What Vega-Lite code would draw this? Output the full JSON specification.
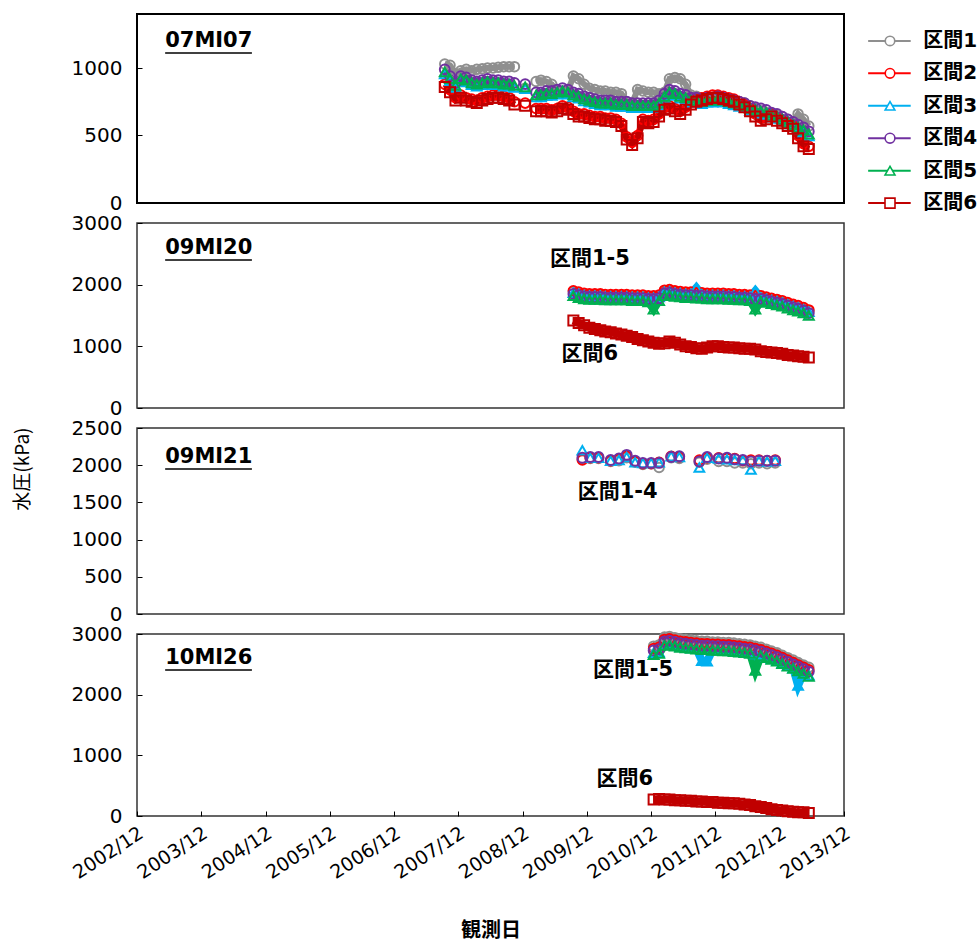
{
  "$schema": "https://vega.github.io/schema/vega-lite/v6.json",
  "padding": {"left": 14, "top": 13, "right": 0, "bottom": 4},
  "background": "white",
  "config": {
    "font": "DejaVu Sans",
    "view": {"stroke": "#333", "strokeWidth": 1.5},
    "axis": {"labelFont": "DejaVu Sans", "labelFontSize": 20, "labelColor": "#000", "tickColor": "#000", "domain": false, "grid": false, "labelFlush": false, "labelOverlap": false}
  },
  "title": {"text": "水圧(kPa)", "orient": "left", "anchor": "middle", "font": "Noto Sans CJK JP", "fontSize": 19, "fontWeight": "normal", "color": "#000", "offset": 36, "dx": 8},
  "datasets": {
    "p1": [
      {"s":"区間1","g":1,"d":"2007-09-15","v":1030},{"s":"区間1","g":1,"d":"2007-10-15","v":1020},{"s":"区間1","g":1,"d":"2007-11-15","v":960},{"s":"区間1","g":1,"d":"2007-12-15","v":980},{"s":"区間1","g":1,"d":"2008-01-15","v":990},{"s":"区間1","g":1,"d":"2008-02-15","v":980},{"s":"区間1","g":1,"d":"2008-03-15","v":990},{"s":"区間1","g":1,"d":"2008-04-15","v":995},{"s":"区間1","g":1,"d":"2008-05-15","v":1000},{"s":"区間1","g":1,"d":"2008-06-15","v":1000},{"s":"区間1","g":1,"d":"2008-07-15","v":1005},{"s":"区間1","g":1,"d":"2008-08-15","v":1010},{"s":"区間1","g":1,"d":"2008-09-15","v":1010},{"s":"区間1","g":1,"d":"2008-10-15","v":1010},
      {"s":"区間1","g":2,"d":"2008-12-15","v":850},
      {"s":"区間1","g":3,"d":"2009-02-15","v":900},{"s":"区間1","g":3,"d":"2009-03-15","v":910},{"s":"区間1","g":3,"d":"2009-04-15","v":900},{"s":"区間1","g":3,"d":"2009-05-15","v":880},{"s":"区間1","g":3,"d":"2009-06-15","v":820},{"s":"区間1","g":3,"d":"2009-07-15","v":820},{"s":"区間1","g":3,"d":"2009-08-15","v":830},{"s":"区間1","g":3,"d":"2009-09-15","v":940},{"s":"区間1","g":3,"d":"2009-10-15","v":920},{"s":"区間1","g":3,"d":"2009-11-15","v":880},{"s":"区間1","g":3,"d":"2009-12-15","v":850},
      {"s":"区間1","g":3,"d":"2010-01-15","v":840},{"s":"区間1","g":3,"d":"2010-02-15","v":830},{"s":"区間1","g":3,"d":"2010-03-15","v":830},{"s":"区間1","g":3,"d":"2010-04-15","v":820},{"s":"区間1","g":3,"d":"2010-05-15","v":820},{"s":"区間1","g":3,"d":"2010-06-15","v":810},{"s":"区間1","g":3,"d":"2010-07-15","v":750},{"s":"区間1","g":3,"d":"2010-08-15","v":740},{"s":"区間1","g":3,"d":"2010-09-15","v":840},{"s":"区間1","g":3,"d":"2010-10-15","v":830},{"s":"区間1","g":3,"d":"2010-11-15","v":820},{"s":"区間1","g":3,"d":"2010-12-15","v":820},
      {"s":"区間1","g":3,"d":"2011-01-15","v":810},{"s":"区間1","g":3,"d":"2011-02-15","v":820},{"s":"区間1","g":3,"d":"2011-03-15","v":920},{"s":"区間1","g":3,"d":"2011-04-15","v":930},{"s":"区間1","g":3,"d":"2011-05-15","v":920},{"s":"区間1","g":3,"d":"2011-06-15","v":880},{"s":"区間1","g":3,"d":"2011-07-15","v":800},{"s":"区間1","g":3,"d":"2011-08-15","v":790},{"s":"区間1","g":3,"d":"2011-09-15","v":780},{"s":"区間1","g":3,"d":"2011-10-15","v":770},{"s":"区間1","g":3,"d":"2011-11-15","v":770},{"s":"区間1","g":3,"d":"2011-12-15","v":780},
      {"s":"区間1","g":3,"d":"2012-01-15","v":780},{"s":"区間1","g":3,"d":"2012-02-15","v":770},{"s":"区間1","g":3,"d":"2012-03-15","v":760},{"s":"区間1","g":3,"d":"2012-04-15","v":750},{"s":"区間1","g":3,"d":"2012-05-15","v":740},{"s":"区間1","g":3,"d":"2012-06-15","v":720},{"s":"区間1","g":3,"d":"2012-07-15","v":700},{"s":"区間1","g":3,"d":"2012-08-15","v":680},{"s":"区間1","g":3,"d":"2012-09-15","v":670},{"s":"区間1","g":3,"d":"2012-10-15","v":660},{"s":"区間1","g":3,"d":"2012-11-15","v":650},{"s":"区間1","g":3,"d":"2012-12-15","v":640},
      {"s":"区間1","g":3,"d":"2013-01-15","v":620},{"s":"区間1","g":3,"d":"2013-02-15","v":600},{"s":"区間1","g":3,"d":"2013-03-15","v":660},{"s":"区間1","g":3,"d":"2013-04-15","v":620},{"s":"区間1","g":3,"d":"2013-05-15","v":570},

      {"s":"区間2","g":1,"d":"2007-09-15","v":880},{"s":"区間2","g":1,"d":"2007-10-15","v":840},{"s":"区間2","g":1,"d":"2007-11-15","v":780},{"s":"区間2","g":1,"d":"2007-12-15","v":800},{"s":"区間2","g":1,"d":"2008-01-15","v":780},{"s":"区間2","g":1,"d":"2008-02-15","v":770},{"s":"区間2","g":1,"d":"2008-03-15","v":760},{"s":"区間2","g":1,"d":"2008-04-15","v":780},{"s":"区間2","g":1,"d":"2008-05-15","v":790},{"s":"区間2","g":1,"d":"2008-06-15","v":800},{"s":"区間2","g":1,"d":"2008-07-15","v":800},{"s":"区間2","g":1,"d":"2008-08-15","v":790},{"s":"区間2","g":1,"d":"2008-09-15","v":780},{"s":"区間2","g":1,"d":"2008-10-15","v":750},
      {"s":"区間2","g":2,"d":"2008-12-15","v":740},
      {"s":"区間2","g":3,"d":"2009-02-15","v":700},{"s":"区間2","g":3,"d":"2009-03-15","v":700},{"s":"区間2","g":3,"d":"2009-04-15","v":700},{"s":"区間2","g":3,"d":"2009-05-15","v":690},{"s":"区間2","g":3,"d":"2009-06-15","v":700},{"s":"区間2","g":3,"d":"2009-07-15","v":720},{"s":"区間2","g":3,"d":"2009-08-15","v":710},{"s":"区間2","g":3,"d":"2009-09-15","v":680},{"s":"区間2","g":3,"d":"2009-10-15","v":660},{"s":"区間2","g":3,"d":"2009-11-15","v":660},{"s":"区間2","g":3,"d":"2009-12-15","v":650},
      {"s":"区間2","g":3,"d":"2010-01-15","v":640},{"s":"区間2","g":3,"d":"2010-02-15","v":640},{"s":"区間2","g":3,"d":"2010-03-15","v":630},{"s":"区間2","g":3,"d":"2010-04-15","v":630},{"s":"区間2","g":3,"d":"2010-05-15","v":620},{"s":"区間2","g":3,"d":"2010-06-15","v":590},{"s":"区間2","g":3,"d":"2010-07-15","v":490},{"s":"区間2","g":3,"d":"2010-08-15","v":450},{"s":"区間2","g":3,"d":"2010-09-15","v":500},{"s":"区間2","g":3,"d":"2010-10-15","v":620},{"s":"区間2","g":3,"d":"2010-11-15","v":610},{"s":"区間2","g":3,"d":"2010-12-15","v":620},
      {"s":"区間2","g":3,"d":"2011-01-15","v":660},{"s":"区間2","g":3,"d":"2011-02-15","v":710},{"s":"区間2","g":3,"d":"2011-03-15","v":720},{"s":"区間2","g":3,"d":"2011-04-15","v":700},{"s":"区間2","g":3,"d":"2011-05-15","v":680},{"s":"区間2","g":3,"d":"2011-06-15","v":710},{"s":"区間2","g":3,"d":"2011-07-15","v":750},{"s":"区間2","g":3,"d":"2011-08-15","v":770},{"s":"区間2","g":3,"d":"2011-09-15","v":780},{"s":"区間2","g":3,"d":"2011-10-15","v":790},{"s":"区間2","g":3,"d":"2011-11-15","v":800},{"s":"区間2","g":3,"d":"2011-12-15","v":800},
      {"s":"区間2","g":3,"d":"2012-01-15","v":790},{"s":"区間2","g":3,"d":"2012-02-15","v":780},{"s":"区間2","g":3,"d":"2012-03-15","v":770},{"s":"区間2","g":3,"d":"2012-04-15","v":750},{"s":"区間2","g":3,"d":"2012-05-15","v":730},{"s":"区間2","g":3,"d":"2012-06-15","v":700},{"s":"区間2","g":3,"d":"2012-07-15","v":660},{"s":"区間2","g":3,"d":"2012-08-15","v":630},{"s":"区間2","g":3,"d":"2012-09-15","v":640},{"s":"区間2","g":3,"d":"2012-10-15","v":660},{"s":"区間2","g":3,"d":"2012-11-15","v":630},{"s":"区間2","g":3,"d":"2012-12-15","v":610},
      {"s":"区間2","g":3,"d":"2013-01-15","v":590},{"s":"区間2","g":3,"d":"2013-02-15","v":570},{"s":"区間2","g":3,"d":"2013-03-15","v":500},{"s":"区間2","g":3,"d":"2013-04-15","v":440},{"s":"区間2","g":3,"d":"2013-05-15","v":420},

      {"s":"区間3","g":1,"d":"2007-09-15","v":955},{"s":"区間3","g":1,"d":"2007-10-15","v":905},{"s":"区間3","g":1,"d":"2007-11-15","v":855},{"s":"区間3","g":1,"d":"2007-12-15","v":905},{"s":"区間3","g":1,"d":"2008-01-15","v":895},{"s":"区間3","g":1,"d":"2008-02-15","v":875},{"s":"区間3","g":1,"d":"2008-03-15","v":865},{"s":"区間3","g":1,"d":"2008-04-15","v":875},{"s":"区間3","g":1,"d":"2008-05-15","v":885},{"s":"区間3","g":1,"d":"2008-06-15","v":875},{"s":"区間3","g":1,"d":"2008-07-15","v":875},{"s":"区間3","g":1,"d":"2008-08-15","v":865},{"s":"区間3","g":1,"d":"2008-09-15","v":865},{"s":"区間3","g":1,"d":"2008-10-15","v":855},
      {"s":"区間3","g":2,"d":"2008-12-15","v":845},
      {"s":"区間3","g":3,"d":"2009-02-15","v":785},{"s":"区間3","g":3,"d":"2009-03-15","v":785},{"s":"区間3","g":3,"d":"2009-04-15","v":795},{"s":"区間3","g":3,"d":"2009-05-15","v":795},{"s":"区間3","g":3,"d":"2009-06-15","v":805},{"s":"区間3","g":3,"d":"2009-07-15","v":815},{"s":"区間3","g":3,"d":"2009-08-15","v":805},{"s":"区間3","g":3,"d":"2009-09-15","v":785},{"s":"区間3","g":3,"d":"2009-10-15","v":775},{"s":"区間3","g":3,"d":"2009-11-15","v":755},{"s":"区間3","g":3,"d":"2009-12-15","v":745},
      {"s":"区間3","g":3,"d":"2010-01-15","v":735},{"s":"区間3","g":3,"d":"2010-02-15","v":725},{"s":"区間3","g":3,"d":"2010-03-15","v":725},{"s":"区間3","g":3,"d":"2010-04-15","v":725},{"s":"区間3","g":3,"d":"2010-05-15","v":715},{"s":"区間3","g":3,"d":"2010-06-15","v":715},{"s":"区間3","g":3,"d":"2010-07-15","v":715},{"s":"区間3","g":3,"d":"2010-08-15","v":705},{"s":"区間3","g":3,"d":"2010-09-15","v":705},{"s":"区間3","g":3,"d":"2010-10-15","v":705},{"s":"区間3","g":3,"d":"2010-11-15","v":705},{"s":"区間3","g":3,"d":"2010-12-15","v":705},
      {"s":"区間3","g":3,"d":"2011-01-15","v":725},{"s":"区間3","g":3,"d":"2011-02-15","v":775},{"s":"区間3","g":3,"d":"2011-03-15","v":805},{"s":"区間3","g":3,"d":"2011-04-15","v":795},{"s":"区間3","g":3,"d":"2011-05-15","v":775},{"s":"区間3","g":3,"d":"2011-06-15","v":765},{"s":"区間3","g":3,"d":"2011-07-15","v":745},{"s":"区間3","g":3,"d":"2011-08-15","v":745},{"s":"区間3","g":3,"d":"2011-09-15","v":735},{"s":"区間3","g":3,"d":"2011-10-15","v":745},{"s":"区間3","g":3,"d":"2011-11-15","v":745},{"s":"区間3","g":3,"d":"2011-12-15","v":755},
      {"s":"区間3","g":3,"d":"2012-01-15","v":745},{"s":"区間3","g":3,"d":"2012-02-15","v":735},{"s":"区間3","g":3,"d":"2012-03-15","v":725},{"s":"区間3","g":3,"d":"2012-04-15","v":715},{"s":"区間3","g":3,"d":"2012-05-15","v":705},{"s":"区間3","g":3,"d":"2012-06-15","v":685},{"s":"区間3","g":3,"d":"2012-07-15","v":675},{"s":"区間3","g":3,"d":"2012-08-15","v":665},{"s":"区間3","g":3,"d":"2012-09-15","v":655},{"s":"区間3","g":3,"d":"2012-10-15","v":635},{"s":"区間3","g":3,"d":"2012-11-15","v":625},{"s":"区間3","g":3,"d":"2012-12-15","v":605},
      {"s":"区間3","g":3,"d":"2013-01-15","v":585},{"s":"区間3","g":3,"d":"2013-02-15","v":565},{"s":"区間3","g":3,"d":"2013-03-15","v":545},{"s":"区間3","g":3,"d":"2013-04-15","v":525},{"s":"区間3","g":3,"d":"2013-05-15","v":495},

      {"s":"区間4","g":1,"d":"2007-09-15","v":990},{"s":"区間4","g":1,"d":"2007-10-15","v":940},{"s":"区間4","g":1,"d":"2007-11-15","v":890},{"s":"区間4","g":1,"d":"2007-12-15","v":940},{"s":"区間4","g":1,"d":"2008-01-15","v":930},{"s":"区間4","g":1,"d":"2008-02-15","v":910},{"s":"区間4","g":1,"d":"2008-03-15","v":900},{"s":"区間4","g":1,"d":"2008-04-15","v":910},{"s":"区間4","g":1,"d":"2008-05-15","v":920},{"s":"区間4","g":1,"d":"2008-06-15","v":910},{"s":"区間4","g":1,"d":"2008-07-15","v":910},{"s":"区間4","g":1,"d":"2008-08-15","v":900},{"s":"区間4","g":1,"d":"2008-09-15","v":900},{"s":"区間4","g":1,"d":"2008-10-15","v":890},
      {"s":"区間4","g":2,"d":"2008-12-15","v":880},
      {"s":"区間4","g":3,"d":"2009-02-15","v":820},{"s":"区間4","g":3,"d":"2009-03-15","v":820},{"s":"区間4","g":3,"d":"2009-04-15","v":830},{"s":"区間4","g":3,"d":"2009-05-15","v":830},{"s":"区間4","g":3,"d":"2009-06-15","v":840},{"s":"区間4","g":3,"d":"2009-07-15","v":850},{"s":"区間4","g":3,"d":"2009-08-15","v":840},{"s":"区間4","g":3,"d":"2009-09-15","v":820},{"s":"区間4","g":3,"d":"2009-10-15","v":810},{"s":"区間4","g":3,"d":"2009-11-15","v":790},{"s":"区間4","g":3,"d":"2009-12-15","v":780},
      {"s":"区間4","g":3,"d":"2010-01-15","v":770},{"s":"区間4","g":3,"d":"2010-02-15","v":760},{"s":"区間4","g":3,"d":"2010-03-15","v":760},{"s":"区間4","g":3,"d":"2010-04-15","v":760},{"s":"区間4","g":3,"d":"2010-05-15","v":750},{"s":"区間4","g":3,"d":"2010-06-15","v":750},{"s":"区間4","g":3,"d":"2010-07-15","v":750},{"s":"区間4","g":3,"d":"2010-08-15","v":740},{"s":"区間4","g":3,"d":"2010-09-15","v":740},{"s":"区間4","g":3,"d":"2010-10-15","v":740},{"s":"区間4","g":3,"d":"2010-11-15","v":740},{"s":"区間4","g":3,"d":"2010-12-15","v":740},
      {"s":"区間4","g":3,"d":"2011-01-15","v":760},{"s":"区間4","g":3,"d":"2011-02-15","v":810},{"s":"区間4","g":3,"d":"2011-03-15","v":840},{"s":"区間4","g":3,"d":"2011-04-15","v":830},{"s":"区間4","g":3,"d":"2011-05-15","v":810},{"s":"区間4","g":3,"d":"2011-06-15","v":800},{"s":"区間4","g":3,"d":"2011-07-15","v":780},{"s":"区間4","g":3,"d":"2011-08-15","v":780},{"s":"区間4","g":3,"d":"2011-09-15","v":770},{"s":"区間4","g":3,"d":"2011-10-15","v":780},{"s":"区間4","g":3,"d":"2011-11-15","v":780},{"s":"区間4","g":3,"d":"2011-12-15","v":790},
      {"s":"区間4","g":3,"d":"2012-01-15","v":780},{"s":"区間4","g":3,"d":"2012-02-15","v":770},{"s":"区間4","g":3,"d":"2012-03-15","v":760},{"s":"区間4","g":3,"d":"2012-04-15","v":750},{"s":"区間4","g":3,"d":"2012-05-15","v":740},{"s":"区間4","g":3,"d":"2012-06-15","v":720},{"s":"区間4","g":3,"d":"2012-07-15","v":710},{"s":"区間4","g":3,"d":"2012-08-15","v":700},{"s":"区間4","g":3,"d":"2012-09-15","v":690},{"s":"区間4","g":3,"d":"2012-10-15","v":670},{"s":"区間4","g":3,"d":"2012-11-15","v":660},{"s":"区間4","g":3,"d":"2012-12-15","v":640},
      {"s":"区間4","g":3,"d":"2013-01-15","v":620},{"s":"区間4","g":3,"d":"2013-02-15","v":600},{"s":"区間4","g":3,"d":"2013-03-15","v":580},{"s":"区間4","g":3,"d":"2013-04-15","v":560},{"s":"区間4","g":3,"d":"2013-05-15","v":530},

      {"s":"区間5","g":1,"d":"2007-09-15","v":970},{"s":"区間5","g":1,"d":"2007-10-15","v":920},{"s":"区間5","g":1,"d":"2007-11-15","v":870},{"s":"区間5","g":1,"d":"2007-12-15","v":920},{"s":"区間5","g":1,"d":"2008-01-15","v":910},{"s":"区間5","g":1,"d":"2008-02-15","v":890},{"s":"区間5","g":1,"d":"2008-03-15","v":880},{"s":"区間5","g":1,"d":"2008-04-15","v":890},{"s":"区間5","g":1,"d":"2008-05-15","v":900},{"s":"区間5","g":1,"d":"2008-06-15","v":890},{"s":"区間5","g":1,"d":"2008-07-15","v":890},{"s":"区間5","g":1,"d":"2008-08-15","v":880},{"s":"区間5","g":1,"d":"2008-09-15","v":880},{"s":"区間5","g":1,"d":"2008-10-15","v":870},
      {"s":"区間5","g":2,"d":"2008-12-15","v":860},
      {"s":"区間5","g":3,"d":"2009-02-15","v":800},{"s":"区間5","g":3,"d":"2009-03-15","v":800},{"s":"区間5","g":3,"d":"2009-04-15","v":810},{"s":"区間5","g":3,"d":"2009-05-15","v":810},{"s":"区間5","g":3,"d":"2009-06-15","v":820},{"s":"区間5","g":3,"d":"2009-07-15","v":830},{"s":"区間5","g":3,"d":"2009-08-15","v":820},{"s":"区間5","g":3,"d":"2009-09-15","v":800},{"s":"区間5","g":3,"d":"2009-10-15","v":790},{"s":"区間5","g":3,"d":"2009-11-15","v":770},{"s":"区間5","g":3,"d":"2009-12-15","v":760},
      {"s":"区間5","g":3,"d":"2010-01-15","v":750},{"s":"区間5","g":3,"d":"2010-02-15","v":740},{"s":"区間5","g":3,"d":"2010-03-15","v":740},{"s":"区間5","g":3,"d":"2010-04-15","v":740},{"s":"区間5","g":3,"d":"2010-05-15","v":730},{"s":"区間5","g":3,"d":"2010-06-15","v":730},{"s":"区間5","g":3,"d":"2010-07-15","v":730},{"s":"区間5","g":3,"d":"2010-08-15","v":720},{"s":"区間5","g":3,"d":"2010-09-15","v":720},{"s":"区間5","g":3,"d":"2010-10-15","v":720},{"s":"区間5","g":3,"d":"2010-11-15","v":720},{"s":"区間5","g":3,"d":"2010-12-15","v":720},
      {"s":"区間5","g":3,"d":"2011-01-15","v":740},{"s":"区間5","g":3,"d":"2011-02-15","v":790},{"s":"区間5","g":3,"d":"2011-03-15","v":820},{"s":"区間5","g":3,"d":"2011-04-15","v":810},{"s":"区間5","g":3,"d":"2011-05-15","v":790},{"s":"区間5","g":3,"d":"2011-06-15","v":780},{"s":"区間5","g":3,"d":"2011-07-15","v":760},{"s":"区間5","g":3,"d":"2011-08-15","v":760},{"s":"区間5","g":3,"d":"2011-09-15","v":750},{"s":"区間5","g":3,"d":"2011-10-15","v":760},{"s":"区間5","g":3,"d":"2011-11-15","v":760},{"s":"区間5","g":3,"d":"2011-12-15","v":770},
      {"s":"区間5","g":3,"d":"2012-01-15","v":760},{"s":"区間5","g":3,"d":"2012-02-15","v":750},{"s":"区間5","g":3,"d":"2012-03-15","v":740},{"s":"区間5","g":3,"d":"2012-04-15","v":730},{"s":"区間5","g":3,"d":"2012-05-15","v":720},{"s":"区間5","g":3,"d":"2012-06-15","v":700},{"s":"区間5","g":3,"d":"2012-07-15","v":690},{"s":"区間5","g":3,"d":"2012-08-15","v":680},{"s":"区間5","g":3,"d":"2012-09-15","v":670},{"s":"区間5","g":3,"d":"2012-10-15","v":650},{"s":"区間5","g":3,"d":"2012-11-15","v":640},{"s":"区間5","g":3,"d":"2012-12-15","v":620},
      {"s":"区間5","g":3,"d":"2013-01-15","v":600},{"s":"区間5","g":3,"d":"2013-02-15","v":580},{"s":"区間5","g":3,"d":"2013-03-15","v":560},{"s":"区間5","g":3,"d":"2013-04-15","v":540},{"s":"区間5","g":3,"d":"2013-05-15","v":510},

      {"s":"区間6","g":1,"d":"2007-09-15","v":860},{"s":"区間6","g":1,"d":"2007-10-15","v":820},{"s":"区間6","g":1,"d":"2007-11-15","v":760},{"s":"区間6","g":1,"d":"2007-12-15","v":780},{"s":"区間6","g":1,"d":"2008-01-15","v":760},{"s":"区間6","g":1,"d":"2008-02-15","v":750},{"s":"区間6","g":1,"d":"2008-03-15","v":740},{"s":"区間6","g":1,"d":"2008-04-15","v":760},{"s":"区間6","g":1,"d":"2008-05-15","v":770},{"s":"区間6","g":1,"d":"2008-06-15","v":780},{"s":"区間6","g":1,"d":"2008-07-15","v":780},{"s":"区間6","g":1,"d":"2008-08-15","v":770},{"s":"区間6","g":1,"d":"2008-09-15","v":760},{"s":"区間6","g":1,"d":"2008-10-15","v":730},
      {"s":"区間6","g":2,"d":"2008-12-15","v":720},
      {"s":"区間6","g":3,"d":"2009-02-15","v":680},{"s":"区間6","g":3,"d":"2009-03-15","v":680},{"s":"区間6","g":3,"d":"2009-04-15","v":680},{"s":"区間6","g":3,"d":"2009-05-15","v":670},{"s":"区間6","g":3,"d":"2009-06-15","v":680},{"s":"区間6","g":3,"d":"2009-07-15","v":700},{"s":"区間6","g":3,"d":"2009-08-15","v":690},{"s":"区間6","g":3,"d":"2009-09-15","v":660},{"s":"区間6","g":3,"d":"2009-10-15","v":640},{"s":"区間6","g":3,"d":"2009-11-15","v":640},{"s":"区間6","g":3,"d":"2009-12-15","v":630},
      {"s":"区間6","g":3,"d":"2010-01-15","v":620},{"s":"区間6","g":3,"d":"2010-02-15","v":620},{"s":"区間6","g":3,"d":"2010-03-15","v":610},{"s":"区間6","g":3,"d":"2010-04-15","v":610},{"s":"区間6","g":3,"d":"2010-05-15","v":600},{"s":"区間6","g":3,"d":"2010-06-15","v":570},{"s":"区間6","g":3,"d":"2010-07-15","v":470},{"s":"区間6","g":3,"d":"2010-08-15","v":430},{"s":"区間6","g":3,"d":"2010-09-15","v":480},{"s":"区間6","g":3,"d":"2010-10-15","v":600},{"s":"区間6","g":3,"d":"2010-11-15","v":590},{"s":"区間6","g":3,"d":"2010-12-15","v":600},
      {"s":"区間6","g":3,"d":"2011-01-15","v":640},{"s":"区間6","g":3,"d":"2011-02-15","v":690},{"s":"区間6","g":3,"d":"2011-03-15","v":700},{"s":"区間6","g":3,"d":"2011-04-15","v":680},{"s":"区間6","g":3,"d":"2011-05-15","v":660},{"s":"区間6","g":3,"d":"2011-06-15","v":690},{"s":"区間6","g":3,"d":"2011-07-15","v":730},{"s":"区間6","g":3,"d":"2011-08-15","v":750},{"s":"区間6","g":3,"d":"2011-09-15","v":760},{"s":"区間6","g":3,"d":"2011-10-15","v":770},{"s":"区間6","g":3,"d":"2011-11-15","v":780},{"s":"区間6","g":3,"d":"2011-12-15","v":780},
      {"s":"区間6","g":3,"d":"2012-01-15","v":770},{"s":"区間6","g":3,"d":"2012-02-15","v":760},{"s":"区間6","g":3,"d":"2012-03-15","v":750},{"s":"区間6","g":3,"d":"2012-04-15","v":730},{"s":"区間6","g":3,"d":"2012-05-15","v":710},{"s":"区間6","g":3,"d":"2012-06-15","v":680},{"s":"区間6","g":3,"d":"2012-07-15","v":640},{"s":"区間6","g":3,"d":"2012-08-15","v":610},{"s":"区間6","g":3,"d":"2012-09-15","v":620},{"s":"区間6","g":3,"d":"2012-10-15","v":640},{"s":"区間6","g":3,"d":"2012-11-15","v":610},{"s":"区間6","g":3,"d":"2012-12-15","v":590},
      {"s":"区間6","g":3,"d":"2013-01-15","v":570},{"s":"区間6","g":3,"d":"2013-02-15","v":550},{"s":"区間6","g":3,"d":"2013-03-15","v":480},{"s":"区間6","g":3,"d":"2013-04-15","v":420},{"s":"区間6","g":3,"d":"2013-05-15","v":400}
    ],
    "p2": [
      {"s":"区間1","d":"2009-09-15","v":1890},{"s":"区間1","d":"2009-10-15","v":1870},{"s":"区間1","d":"2009-11-15","v":1850},{"s":"区間1","d":"2009-12-15","v":1840},
      {"s":"区間1","d":"2010-01-15","v":1840},{"s":"区間1","d":"2010-02-15","v":1840},{"s":"区間1","d":"2010-03-15","v":1830},{"s":"区間1","d":"2010-04-15","v":1830},{"s":"区間1","d":"2010-05-15","v":1830},{"s":"区間1","d":"2010-06-15","v":1830},{"s":"区間1","d":"2010-07-15","v":1830},{"s":"区間1","d":"2010-08-15","v":1820},{"s":"区間1","d":"2010-09-15","v":1820},{"s":"区間1","d":"2010-10-15","v":1820},{"s":"区間1","d":"2010-11-15","v":1810},{"s":"区間1","d":"2010-12-15","v":1810},
      {"s":"区間1","d":"2011-01-15","v":1820},{"s":"区間1","d":"2011-02-15","v":1900},{"s":"区間1","d":"2011-03-15","v":1910},{"s":"区間1","d":"2011-04-15","v":1890},{"s":"区間1","d":"2011-05-15","v":1880},{"s":"区間1","d":"2011-06-15","v":1870},{"s":"区間1","d":"2011-07-15","v":1870},{"s":"区間1","d":"2011-08-15","v":1860},{"s":"区間1","d":"2011-09-15","v":1860},{"s":"区間1","d":"2011-10-15","v":1850},{"s":"区間1","d":"2011-11-15","v":1850},{"s":"区間1","d":"2011-12-15","v":1850},
      {"s":"区間1","d":"2012-01-15","v":1850},{"s":"区間1","d":"2012-02-15","v":1840},{"s":"区間1","d":"2012-03-15","v":1840},{"s":"区間1","d":"2012-04-15","v":1830},{"s":"区間1","d":"2012-05-15","v":1830},{"s":"区間1","d":"2012-06-15","v":1820},{"s":"区間1","d":"2012-07-15","v":1810},{"s":"区間1","d":"2012-08-15","v":1810},{"s":"区間1","d":"2012-09-15","v":1790},{"s":"区間1","d":"2012-10-15","v":1770},{"s":"区間1","d":"2012-11-15","v":1750},{"s":"区間1","d":"2012-12-15","v":1730},
      {"s":"区間1","d":"2013-01-15","v":1700},{"s":"区間1","d":"2013-02-15","v":1670},{"s":"区間1","d":"2013-03-15","v":1650},{"s":"区間1","d":"2013-04-15","v":1620},{"s":"区間1","d":"2013-05-15","v":1580},

      {"s":"区間2","d":"2009-09-15","v":1900},{"s":"区間2","d":"2009-10-15","v":1880},{"s":"区間2","d":"2009-11-15","v":1860},{"s":"区間2","d":"2009-12-15","v":1850},
      {"s":"区間2","d":"2010-01-15","v":1850},{"s":"区間2","d":"2010-02-15","v":1850},{"s":"区間2","d":"2010-03-15","v":1840},{"s":"区間2","d":"2010-04-15","v":1840},{"s":"区間2","d":"2010-05-15","v":1840},{"s":"区間2","d":"2010-06-15","v":1840},{"s":"区間2","d":"2010-07-15","v":1840},{"s":"区間2","d":"2010-08-15","v":1830},{"s":"区間2","d":"2010-09-15","v":1830},{"s":"区間2","d":"2010-10-15","v":1830},{"s":"区間2","d":"2010-11-15","v":1820},{"s":"区間2","d":"2010-12-15","v":1820},
      {"s":"区間2","d":"2011-01-15","v":1830},{"s":"区間2","d":"2011-02-15","v":1910},{"s":"区間2","d":"2011-03-15","v":1920},{"s":"区間2","d":"2011-04-15","v":1900},{"s":"区間2","d":"2011-05-15","v":1890},{"s":"区間2","d":"2011-06-15","v":1880},{"s":"区間2","d":"2011-07-15","v":1880},{"s":"区間2","d":"2011-08-15","v":1870},{"s":"区間2","d":"2011-09-15","v":1870},{"s":"区間2","d":"2011-10-15","v":1860},{"s":"区間2","d":"2011-11-15","v":1860},{"s":"区間2","d":"2011-12-15","v":1860},
      {"s":"区間2","d":"2012-01-15","v":1860},{"s":"区間2","d":"2012-02-15","v":1850},{"s":"区間2","d":"2012-03-15","v":1850},{"s":"区間2","d":"2012-04-15","v":1840},{"s":"区間2","d":"2012-05-15","v":1840},{"s":"区間2","d":"2012-06-15","v":1830},{"s":"区間2","d":"2012-07-15","v":1820},{"s":"区間2","d":"2012-08-15","v":1820},{"s":"区間2","d":"2012-09-15","v":1800},{"s":"区間2","d":"2012-10-15","v":1780},{"s":"区間2","d":"2012-11-15","v":1760},{"s":"区間2","d":"2012-12-15","v":1740},
      {"s":"区間2","d":"2013-01-15","v":1710},{"s":"区間2","d":"2013-02-15","v":1680},{"s":"区間2","d":"2013-03-15","v":1660},{"s":"区間2","d":"2013-04-15","v":1630},{"s":"区間2","d":"2013-05-15","v":1590},

      {"s":"区間3","d":"2009-09-15","v":1870},{"s":"区間3","d":"2009-10-15","v":1850},{"s":"区間3","d":"2009-11-15","v":1830},{"s":"区間3","d":"2009-12-15","v":1820},
      {"s":"区間3","d":"2010-01-15","v":1820},{"s":"区間3","d":"2010-02-15","v":1820},{"s":"区間3","d":"2010-03-15","v":1810},{"s":"区間3","d":"2010-04-15","v":1810},{"s":"区間3","d":"2010-05-15","v":1810},{"s":"区間3","d":"2010-06-15","v":1810},{"s":"区間3","d":"2010-07-15","v":1810},{"s":"区間3","d":"2010-08-15","v":1800},{"s":"区間3","d":"2010-09-15","v":1800},{"s":"区間3","d":"2010-10-15","v":1800},{"s":"区間3","d":"2010-11-15","v":1790},{"s":"区間3","d":"2010-12-15","v":1790},
      {"s":"区間3","d":"2011-01-15","v":1800},{"s":"区間3","d":"2011-02-15","v":1880},{"s":"区間3","d":"2011-03-15","v":1890},{"s":"区間3","d":"2011-04-15","v":1870},{"s":"区間3","d":"2011-05-15","v":1860},{"s":"区間3","d":"2011-06-15","v":1850},{"s":"区間3","d":"2011-07-15","v":1850},{"s":"区間3","d":"2011-08-15","v":1950},{"s":"区間3","d":"2011-09-15","v":1840},{"s":"区間3","d":"2011-10-15","v":1830},{"s":"区間3","d":"2011-11-15","v":1830},{"s":"区間3","d":"2011-12-15","v":1830},
      {"s":"区間3","d":"2012-01-15","v":1830},{"s":"区間3","d":"2012-02-15","v":1820},{"s":"区間3","d":"2012-03-15","v":1820},{"s":"区間3","d":"2012-04-15","v":1810},{"s":"区間3","d":"2012-05-15","v":1810},{"s":"区間3","d":"2012-06-15","v":1800},{"s":"区間3","d":"2012-07-15","v":1900},{"s":"区間3","d":"2012-08-15","v":1790},{"s":"区間3","d":"2012-09-15","v":1770},{"s":"区間3","d":"2012-10-15","v":1750},{"s":"区間3","d":"2012-11-15","v":1730},{"s":"区間3","d":"2012-12-15","v":1710},
      {"s":"区間3","d":"2013-01-15","v":1680},{"s":"区間3","d":"2013-02-15","v":1650},{"s":"区間3","d":"2013-03-15","v":1630},{"s":"区間3","d":"2013-04-15","v":1600},{"s":"区間3","d":"2013-05-15","v":1560},

      {"s":"区間4","d":"2009-09-15","v":1850},{"s":"区間4","d":"2009-10-15","v":1830},{"s":"区間4","d":"2009-11-15","v":1810},{"s":"区間4","d":"2009-12-15","v":1800},
      {"s":"区間4","d":"2010-01-15","v":1800},{"s":"区間4","d":"2010-02-15","v":1800},{"s":"区間4","d":"2010-03-15","v":1790},{"s":"区間4","d":"2010-04-15","v":1790},{"s":"区間4","d":"2010-05-15","v":1790},{"s":"区間4","d":"2010-06-15","v":1790},{"s":"区間4","d":"2010-07-15","v":1790},{"s":"区間4","d":"2010-08-15","v":1780},{"s":"区間4","d":"2010-09-15","v":1780},{"s":"区間4","d":"2010-10-15","v":1780},{"s":"区間4","d":"2010-11-15","v":1770},{"s":"区間4","d":"2010-12-15","v":1770},
      {"s":"区間4","d":"2011-01-15","v":1780},{"s":"区間4","d":"2011-02-15","v":1860},{"s":"区間4","d":"2011-03-15","v":1870},{"s":"区間4","d":"2011-04-15","v":1850},{"s":"区間4","d":"2011-05-15","v":1840},{"s":"区間4","d":"2011-06-15","v":1830},{"s":"区間4","d":"2011-07-15","v":1830},{"s":"区間4","d":"2011-08-15","v":1820},{"s":"区間4","d":"2011-09-15","v":1820},{"s":"区間4","d":"2011-10-15","v":1810},{"s":"区間4","d":"2011-11-15","v":1810},{"s":"区間4","d":"2011-12-15","v":1810},
      {"s":"区間4","d":"2012-01-15","v":1810},{"s":"区間4","d":"2012-02-15","v":1800},{"s":"区間4","d":"2012-03-15","v":1800},{"s":"区間4","d":"2012-04-15","v":1790},{"s":"区間4","d":"2012-05-15","v":1790},{"s":"区間4","d":"2012-06-15","v":1780},{"s":"区間4","d":"2012-07-15","v":1770},{"s":"区間4","d":"2012-08-15","v":1770},{"s":"区間4","d":"2012-09-15","v":1750},{"s":"区間4","d":"2012-10-15","v":1730},{"s":"区間4","d":"2012-11-15","v":1710},{"s":"区間4","d":"2012-12-15","v":1690},
      {"s":"区間4","d":"2013-01-15","v":1660},{"s":"区間4","d":"2013-02-15","v":1630},{"s":"区間4","d":"2013-03-15","v":1610},{"s":"区間4","d":"2013-04-15","v":1580},{"s":"区間4","d":"2013-05-15","v":1540},

      {"s":"区間5","d":"2009-09-15","v":1820},{"s":"区間5","d":"2009-10-15","v":1790},{"s":"区間5","d":"2009-11-15","v":1770},{"s":"区間5","d":"2009-12-15","v":1760},
      {"s":"区間5","d":"2010-01-15","v":1760},{"s":"区間5","d":"2010-02-15","v":1760},{"s":"区間5","d":"2010-03-15","v":1750},{"s":"区間5","d":"2010-04-15","v":1750},{"s":"区間5","d":"2010-05-15","v":1750},{"s":"区間5","d":"2010-06-15","v":1750},{"s":"区間5","d":"2010-07-15","v":1750},{"s":"区間5","d":"2010-08-15","v":1740},{"s":"区間5","d":"2010-09-15","v":1740},{"s":"区間5","d":"2010-10-15","v":1740},{"s":"区間5","d":"2010-11-15","v":1720},{"s":"区間5","d":"2010-12-15","v":1600},
      {"s":"区間5","d":"2011-01-15","v":1740},{"s":"区間5","d":"2011-02-15","v":1820},{"s":"区間5","d":"2011-03-15","v":1830},{"s":"区間5","d":"2011-04-15","v":1810},{"s":"区間5","d":"2011-05-15","v":1800},{"s":"区間5","d":"2011-06-15","v":1790},{"s":"区間5","d":"2011-07-15","v":1790},{"s":"区間5","d":"2011-08-15","v":1780},{"s":"区間5","d":"2011-09-15","v":1780},{"s":"区間5","d":"2011-10-15","v":1770},{"s":"区間5","d":"2011-11-15","v":1770},{"s":"区間5","d":"2011-12-15","v":1770},
      {"s":"区間5","d":"2012-01-15","v":1770},{"s":"区間5","d":"2012-02-15","v":1760},{"s":"区間5","d":"2012-03-15","v":1760},{"s":"区間5","d":"2012-04-15","v":1750},{"s":"区間5","d":"2012-05-15","v":1750},{"s":"区間5","d":"2012-06-15","v":1740},{"s":"区間5","d":"2012-07-15","v":1600},{"s":"区間5","d":"2012-08-15","v":1730},{"s":"区間5","d":"2012-09-15","v":1710},{"s":"区間5","d":"2012-10-15","v":1690},{"s":"区間5","d":"2012-11-15","v":1670},{"s":"区間5","d":"2012-12-15","v":1650},
      {"s":"区間5","d":"2013-01-15","v":1620},{"s":"区間5","d":"2013-02-15","v":1590},{"s":"区間5","d":"2013-03-15","v":1570},{"s":"区間5","d":"2013-04-15","v":1540},{"s":"区間5","d":"2013-05-15","v":1500},

      {"s":"区間6","d":"2009-09-15","v":1420},{"s":"区間6","d":"2009-10-15","v":1380},{"s":"区間6","d":"2009-11-15","v":1340},{"s":"区間6","d":"2009-12-15","v":1300},
      {"s":"区間6","d":"2010-01-15","v":1280},{"s":"区間6","d":"2010-02-15","v":1260},{"s":"区間6","d":"2010-03-15","v":1240},{"s":"区間6","d":"2010-04-15","v":1230},{"s":"区間6","d":"2010-05-15","v":1210},{"s":"区間6","d":"2010-06-15","v":1190},{"s":"区間6","d":"2010-07-15","v":1170},{"s":"区間6","d":"2010-08-15","v":1150},{"s":"区間6","d":"2010-09-15","v":1120},{"s":"区間6","d":"2010-10-15","v":1100},{"s":"区間6","d":"2010-11-15","v":1080},{"s":"区間6","d":"2010-12-15","v":1060},
      {"s":"区間6","d":"2011-01-15","v":1040},{"s":"区間6","d":"2011-02-15","v":1050},{"s":"区間6","d":"2011-03-15","v":1080},{"s":"区間6","d":"2011-04-15","v":1060},{"s":"区間6","d":"2011-05-15","v":1030},{"s":"区間6","d":"2011-06-15","v":1000},{"s":"区間6","d":"2011-07-15","v":990},{"s":"区間6","d":"2011-08-15","v":970},{"s":"区間6","d":"2011-09-15","v":960},{"s":"区間6","d":"2011-10-15","v":980},{"s":"区間6","d":"2011-11-15","v":1000},{"s":"区間6","d":"2011-12-15","v":1000},
      {"s":"区間6","d":"2012-01-15","v":990},{"s":"区間6","d":"2012-02-15","v":980},{"s":"区間6","d":"2012-03-15","v":980},{"s":"区間6","d":"2012-04-15","v":970},{"s":"区間6","d":"2012-05-15","v":960},{"s":"区間6","d":"2012-06-15","v":960},{"s":"区間6","d":"2012-07-15","v":950},{"s":"区間6","d":"2012-08-15","v":920},{"s":"区間6","d":"2012-09-15","v":910},{"s":"区間6","d":"2012-10-15","v":900},{"s":"区間6","d":"2012-11-15","v":890},{"s":"区間6","d":"2012-12-15","v":880},
      {"s":"区間6","d":"2013-01-15","v":860},{"s":"区間6","d":"2013-02-15","v":850},{"s":"区間6","d":"2013-03-15","v":840},{"s":"区間6","d":"2013-04-15","v":830},{"s":"区間6","d":"2013-05-15","v":820}
    ],
    "p3": [
      {"s":"区間1","d":"2009-11-05","v":2080},{"s":"区間1","d":"2009-12-20","v":2090},{"s":"区間1","d":"2010-02-05","v":2090},{"s":"区間1","d":"2010-04-15","v":2050},{"s":"区間1","d":"2010-06-01","v":2060},{"s":"区間1","d":"2010-07-15","v":2100},{"s":"区間1","d":"2010-09-01","v":2040},{"s":"区間1","d":"2010-10-15","v":2010},{"s":"区間1","d":"2010-12-01","v":2020},{"s":"区間1","d":"2011-01-15","v":1970},{"s":"区間1","d":"2011-03-25","v":2100},{"s":"区間1","d":"2011-05-10","v":2090},{"s":"区間1","d":"2011-09-01","v":2040},{"s":"区間1","d":"2011-10-15","v":2080},{"s":"区間1","d":"2011-12-20","v":2050},{"s":"区間1","d":"2012-02-05","v":2050},{"s":"区間1","d":"2012-03-20","v":2030},{"s":"区間1","d":"2012-05-05","v":2030},{"s":"区間1","d":"2012-06-20","v":2020},{"s":"区間1","d":"2012-08-05","v":2030},{"s":"区間1","d":"2012-09-20","v":2020},{"s":"区間1","d":"2012-11-05","v":2030},
      {"s":"区間2","d":"2009-11-05","v":2070},{"s":"区間2","d":"2009-12-20","v":2100},{"s":"区間2","d":"2010-02-05","v":2100},{"s":"区間2","d":"2010-04-15","v":2060},{"s":"区間2","d":"2010-06-01","v":2080},{"s":"区間2","d":"2010-07-15","v":2120},{"s":"区間2","d":"2010-09-01","v":2050},{"s":"区間2","d":"2010-10-15","v":2020},{"s":"区間2","d":"2010-12-01","v":2020},{"s":"区間2","d":"2011-01-15","v":2040},{"s":"区間2","d":"2011-03-25","v":2120},{"s":"区間2","d":"2011-05-10","v":2110},{"s":"区間2","d":"2011-09-01","v":2070},{"s":"区間2","d":"2011-10-15","v":2100},{"s":"区間2","d":"2011-12-20","v":2100},{"s":"区間2","d":"2012-02-05","v":2090},{"s":"区間2","d":"2012-03-20","v":2090},{"s":"区間2","d":"2012-05-05","v":2060},{"s":"区間2","d":"2012-06-20","v":2070},{"s":"区間2","d":"2012-08-05","v":2070},{"s":"区間2","d":"2012-09-20","v":2060},{"s":"区間2","d":"2012-11-05","v":2070},
      {"s":"区間3","d":"2009-11-05","v":2200},{"s":"区間3","d":"2009-12-20","v":2100},{"s":"区間3","d":"2010-02-05","v":2100},{"s":"区間3","d":"2010-04-15","v":2060},{"s":"区間3","d":"2010-06-01","v":2070},{"s":"区間3","d":"2010-07-15","v":2110},{"s":"区間3","d":"2010-09-01","v":2040},{"s":"区間3","d":"2010-10-15","v":2030},{"s":"区間3","d":"2010-12-01","v":2030},{"s":"区間3","d":"2011-01-15","v":2040},{"s":"区間3","d":"2011-03-25","v":2120},{"s":"区間3","d":"2011-05-10","v":2110},{"s":"区間3","d":"2011-09-01","v":1970},{"s":"区間3","d":"2011-10-15","v":2100},{"s":"区間3","d":"2011-12-20","v":2090},{"s":"区間3","d":"2012-02-05","v":2080},{"s":"区間3","d":"2012-03-20","v":2070},{"s":"区間3","d":"2012-05-05","v":2070},{"s":"区間3","d":"2012-06-20","v":1940},{"s":"区間3","d":"2012-08-05","v":2060},{"s":"区間3","d":"2012-09-20","v":2050},{"s":"区間3","d":"2012-11-05","v":2060},
      {"s":"区間4","d":"2009-11-05","v":2100},{"s":"区間4","d":"2009-12-20","v":2110},{"s":"区間4","d":"2010-02-05","v":2110},{"s":"区間4","d":"2010-04-15","v":2070},{"s":"区間4","d":"2010-06-01","v":2090},{"s":"区間4","d":"2010-07-15","v":2140},{"s":"区間4","d":"2010-09-01","v":2060},{"s":"区間4","d":"2010-10-15","v":2030},{"s":"区間4","d":"2010-12-01","v":2030},{"s":"区間4","d":"2011-01-15","v":2030},{"s":"区間4","d":"2011-03-25","v":2110},{"s":"区間4","d":"2011-05-10","v":2120},{"s":"区間4","d":"2011-09-01","v":2050},{"s":"区間4","d":"2011-10-15","v":2110},{"s":"区間4","d":"2011-12-20","v":2090},{"s":"区間4","d":"2012-02-05","v":2100},{"s":"区間4","d":"2012-03-20","v":2080},{"s":"区間4","d":"2012-05-05","v":2070},{"s":"区間4","d":"2012-06-20","v":2050},{"s":"区間4","d":"2012-08-05","v":2060},{"s":"区間4","d":"2012-09-20","v":2060},{"s":"区間4","d":"2012-11-05","v":2060}
    ],
    "p4": [
      {"s":"区間1","d":"2010-12-15","v":2800},
      {"s":"区間1","d":"2011-01-15","v":2820},{"s":"区間1","d":"2011-02-15","v":2950},{"s":"区間1","d":"2011-03-15","v":2960},{"s":"区間1","d":"2011-04-15","v":2940},{"s":"区間1","d":"2011-05-15","v":2920},{"s":"区間1","d":"2011-06-15","v":2910},{"s":"区間1","d":"2011-07-15","v":2900},{"s":"区間1","d":"2011-08-15","v":2890},{"s":"区間1","d":"2011-09-15","v":2880},{"s":"区間1","d":"2011-10-15","v":2880},{"s":"区間1","d":"2011-11-15","v":2870},{"s":"区間1","d":"2011-12-15","v":2870},
      {"s":"区間1","d":"2012-01-15","v":2860},{"s":"区間1","d":"2012-02-15","v":2860},{"s":"区間1","d":"2012-03-15","v":2850},{"s":"区間1","d":"2012-04-15","v":2840},{"s":"区間1","d":"2012-05-15","v":2830},{"s":"区間1","d":"2012-06-15","v":2820},{"s":"区間1","d":"2012-07-15","v":2800},{"s":"区間1","d":"2012-08-15","v":2780},{"s":"区間1","d":"2012-09-15","v":2750},{"s":"区間1","d":"2012-10-15","v":2720},{"s":"区間1","d":"2012-11-15","v":2690},{"s":"区間1","d":"2012-12-15","v":2650},
      {"s":"区間1","d":"2013-01-15","v":2610},{"s":"区間1","d":"2013-02-15","v":2570},{"s":"区間1","d":"2013-03-15","v":2530},{"s":"区間1","d":"2013-04-15","v":2490},{"s":"区間1","d":"2013-05-15","v":2450},

      {"s":"区間2","d":"2010-12-15","v":2760},
      {"s":"区間2","d":"2011-01-15","v":2780},{"s":"区間2","d":"2011-02-15","v":2910},{"s":"区間2","d":"2011-03-15","v":2920},{"s":"区間2","d":"2011-04-15","v":2900},{"s":"区間2","d":"2011-05-15","v":2880},{"s":"区間2","d":"2011-06-15","v":2870},{"s":"区間2","d":"2011-07-15","v":2860},{"s":"区間2","d":"2011-08-15","v":2850},{"s":"区間2","d":"2011-09-15","v":2840},{"s":"区間2","d":"2011-10-15","v":2840},{"s":"区間2","d":"2011-11-15","v":2830},{"s":"区間2","d":"2011-12-15","v":2830},
      {"s":"区間2","d":"2012-01-15","v":2820},{"s":"区間2","d":"2012-02-15","v":2820},{"s":"区間2","d":"2012-03-15","v":2810},{"s":"区間2","d":"2012-04-15","v":2800},{"s":"区間2","d":"2012-05-15","v":2790},{"s":"区間2","d":"2012-06-15","v":2780},{"s":"区間2","d":"2012-07-15","v":2760},{"s":"区間2","d":"2012-08-15","v":2740},{"s":"区間2","d":"2012-09-15","v":2710},{"s":"区間2","d":"2012-10-15","v":2680},{"s":"区間2","d":"2012-11-15","v":2650},{"s":"区間2","d":"2012-12-15","v":2610},
      {"s":"区間2","d":"2013-01-15","v":2570},{"s":"区間2","d":"2013-02-15","v":2530},{"s":"区間2","d":"2013-03-15","v":2490},{"s":"区間2","d":"2013-04-15","v":2450},{"s":"区間2","d":"2013-05-15","v":2410},

      {"s":"区間3","d":"2010-12-15","v":2690},
      {"s":"区間3","d":"2011-01-15","v":2700},{"s":"区間3","d":"2011-02-15","v":2820},{"s":"区間3","d":"2011-03-15","v":2830},{"s":"区間3","d":"2011-04-15","v":2810},{"s":"区間3","d":"2011-05-15","v":2790},{"s":"区間3","d":"2011-06-15","v":2780},{"s":"区間3","d":"2011-07-15","v":2770},{"s":"区間3","d":"2011-08-15","v":2760},{"s":"区間3","d":"2011-09-15","v":2560},{"s":"区間3","d":"2011-10-15","v":2550},{"s":"区間3","d":"2011-11-15","v":2740},{"s":"区間3","d":"2011-12-15","v":2740},
      {"s":"区間3","d":"2012-01-15","v":2730},{"s":"区間3","d":"2012-02-15","v":2730},{"s":"区間3","d":"2012-03-15","v":2720},{"s":"区間3","d":"2012-04-15","v":2710},{"s":"区間3","d":"2012-05-15","v":2700},{"s":"区間3","d":"2012-06-15","v":2690},{"s":"区間3","d":"2012-07-15","v":2670},{"s":"区間3","d":"2012-08-15","v":2650},{"s":"区間3","d":"2012-09-15","v":2620},{"s":"区間3","d":"2012-10-15","v":2590},{"s":"区間3","d":"2012-11-15","v":2560},{"s":"区間3","d":"2012-12-15","v":2520},
      {"s":"区間3","d":"2013-01-15","v":2480},{"s":"区間3","d":"2013-02-15","v":2440},{"s":"区間3","d":"2013-03-15","v":2150},{"s":"区間3","d":"2013-04-15","v":2360},{"s":"区間3","d":"2013-05-15","v":2320},

      {"s":"区間4","d":"2010-12-15","v":2730},
      {"s":"区間4","d":"2011-01-15","v":2750},{"s":"区間4","d":"2011-02-15","v":2880},{"s":"区間4","d":"2011-03-15","v":2890},{"s":"区間4","d":"2011-04-15","v":2870},{"s":"区間4","d":"2011-05-15","v":2850},{"s":"区間4","d":"2011-06-15","v":2840},{"s":"区間4","d":"2011-07-15","v":2830},{"s":"区間4","d":"2011-08-15","v":2820},{"s":"区間4","d":"2011-09-15","v":2810},{"s":"区間4","d":"2011-10-15","v":2810},{"s":"区間4","d":"2011-11-15","v":2800},{"s":"区間4","d":"2011-12-15","v":2800},
      {"s":"区間4","d":"2012-01-15","v":2790},{"s":"区間4","d":"2012-02-15","v":2790},{"s":"区間4","d":"2012-03-15","v":2780},{"s":"区間4","d":"2012-04-15","v":2770},{"s":"区間4","d":"2012-05-15","v":2760},{"s":"区間4","d":"2012-06-15","v":2750},{"s":"区間4","d":"2012-07-15","v":2730},{"s":"区間4","d":"2012-08-15","v":2710},{"s":"区間4","d":"2012-09-15","v":2680},{"s":"区間4","d":"2012-10-15","v":2650},{"s":"区間4","d":"2012-11-15","v":2620},{"s":"区間4","d":"2012-12-15","v":2580},
      {"s":"区間4","d":"2013-01-15","v":2540},{"s":"区間4","d":"2013-02-15","v":2500},{"s":"区間4","d":"2013-03-15","v":2460},{"s":"区間4","d":"2013-04-15","v":2420},{"s":"区間4","d":"2013-05-15","v":2380},

      {"s":"区間5","d":"2010-12-15","v":2660},
      {"s":"区間5","d":"2011-01-15","v":2680},{"s":"区間5","d":"2011-02-15","v":2810},{"s":"区間5","d":"2011-03-15","v":2820},{"s":"区間5","d":"2011-04-15","v":2800},{"s":"区間5","d":"2011-05-15","v":2780},{"s":"区間5","d":"2011-06-15","v":2770},{"s":"区間5","d":"2011-07-15","v":2760},{"s":"区間5","d":"2011-08-15","v":2750},{"s":"区間5","d":"2011-09-15","v":2740},{"s":"区間5","d":"2011-10-15","v":2740},{"s":"区間5","d":"2011-11-15","v":2730},{"s":"区間5","d":"2011-12-15","v":2730},
      {"s":"区間5","d":"2012-01-15","v":2720},{"s":"区間5","d":"2012-02-15","v":2720},{"s":"区間5","d":"2012-03-15","v":2710},{"s":"区間5","d":"2012-04-15","v":2700},{"s":"区間5","d":"2012-05-15","v":2690},{"s":"区間5","d":"2012-06-15","v":2680},{"s":"区間5","d":"2012-07-15","v":2400},{"s":"区間5","d":"2012-08-15","v":2640},{"s":"区間5","d":"2012-09-15","v":2610},{"s":"区間5","d":"2012-10-15","v":2580},{"s":"区間5","d":"2012-11-15","v":2550},{"s":"区間5","d":"2012-12-15","v":2510},
      {"s":"区間5","d":"2013-01-15","v":2470},{"s":"区間5","d":"2013-02-15","v":2430},{"s":"区間5","d":"2013-03-15","v":2390},{"s":"区間5","d":"2013-04-15","v":2350},{"s":"区間5","d":"2013-05-15","v":2300},

      {"s":"区間6","d":"2010-12-15","v":270},
      {"s":"区間6","d":"2011-01-15","v":280},{"s":"区間6","d":"2011-02-15","v":270},{"s":"区間6","d":"2011-03-15","v":270},{"s":"区間6","d":"2011-04-15","v":260},{"s":"区間6","d":"2011-05-15","v":260},{"s":"区間6","d":"2011-06-15","v":250},{"s":"区間6","d":"2011-07-15","v":250},{"s":"区間6","d":"2011-08-15","v":240},{"s":"区間6","d":"2011-09-15","v":240},{"s":"区間6","d":"2011-10-15","v":230},{"s":"区間6","d":"2011-11-15","v":230},{"s":"区間6","d":"2011-12-15","v":220},
      {"s":"区間6","d":"2012-01-15","v":220},{"s":"区間6","d":"2012-02-15","v":210},{"s":"区間6","d":"2012-03-15","v":210},{"s":"区間6","d":"2012-04-15","v":200},{"s":"区間6","d":"2012-05-15","v":190},{"s":"区間6","d":"2012-06-15","v":180},{"s":"区間6","d":"2012-07-15","v":160},{"s":"区間6","d":"2012-08-15","v":150},{"s":"区間6","d":"2012-09-15","v":130},{"s":"区間6","d":"2012-10-15","v":110},{"s":"区間6","d":"2012-11-15","v":100},{"s":"区間6","d":"2012-12-15","v":90},
      {"s":"区間6","d":"2013-01-15","v":80},{"s":"区間6","d":"2013-02-15","v":70},{"s":"区間6","d":"2013-03-15","v":60},{"s":"区間6","d":"2013-04-15","v":60},{"s":"区間6","d":"2013-05-15","v":50}
    ],
    "keys": [{"s":"区間1"},{"s":"区間2"},{"s":"区間3"},{"s":"区間4"},{"s":"区間5"},{"s":"区間6"}]
  },
  "hconcat": [
    {
      "spacing": 20,
      "bounds": "flush",
      "vconcat": [
        {
          "width": 707, "height": 189,
          "view": {"stroke": "#000", "strokeWidth": 2},
          "layer": [
            {"data": {"name": "p1"}, "mark": {"type": "line", "strokeWidth": 6},
             "encoding": {
               "x": {"field": "d", "type": "temporal", "scale": {"domain": [{"year": 2002, "month": 12, "date": 1}, {"year": 2013, "month": 12, "date": 1}], "nice": false}, "axis": null},
               "y": {"field": "v", "type": "quantitative", "scale": {"domain": [0, 1400], "nice": false}, "axis": {"values": [0, 500, 1000], "format": "d", "title": null, "tickSize": -5, "labelPadding": 20}},
               "color": {"field": "s", "type": "nominal", "scale": {"domain": ["区間1","区間2","区間3","区間4","区間5","区間6"], "range": ["#8f8f8f","#ff0000","#00b0f0","#7030a0","#00b050","#c00000"]}, "legend": null},
               "detail": {"field": "g", "type": "nominal"}}},
            {"data": {"name": "p1"}, "mark": {"type": "point", "filled": false, "strokeWidth": 2, "opacity": 1},
             "encoding": {
               "x": {"field": "d", "type": "temporal", "scale": {"domain": [{"year": 2002, "month": 12, "date": 1}, {"year": 2013, "month": 12, "date": 1}], "nice": false}, "axis": null},
               "y": {"field": "v", "type": "quantitative", "scale": {"domain": [0, 1400], "nice": false}, "axis": {"values": [0, 500, 1000], "format": "d", "title": null, "tickSize": -5, "labelPadding": 20}},
               "color": {"field": "s", "type": "nominal", "scale": {"domain": ["区間1","区間2","区間3","区間4","区間5","区間6"], "range": ["#8f8f8f","#ff0000","#00b0f0","#7030a0","#00b050","#c00000"]}, "legend": null},
               "shape": {"field": "s", "type": "nominal", "scale": {"domain": ["区間1","区間2","区間3","区間4","区間5","区間6"], "range": ["circle","circle","triangle-up","circle","triangle-up","square"]}, "legend": null},
               "size": {"field": "s", "type": "ordinal", "scale": {"domain": ["区間1","区間2","区間3","区間4","区間5","区間6"], "range": [90,100,50,40,60,80]}, "legend": null}}},
            {"data": {"values": [{"label": "07MI07"}]}, "mark": {"type": "text", "align": "left", "baseline": "middle", "font": "DejaVu Sans", "fontWeight": "bold", "fontSize": 21, "color": "#000"},
             "encoding": {
               "x": {"datum": 1052524800000, "type": "temporal", "scale": {"domain": [{"year": 2002, "month": 12, "date": 1}, {"year": 2013, "month": 12, "date": 1}], "nice": false}, "axis": null},
               "y": {"datum": 1200, "type": "quantitative", "scale": {"domain": [0, 1400], "nice": false}, "axis": {"values": [0, 500, 1000], "format": "d", "title": null, "tickSize": -5, "labelPadding": 20}},
               "text": {"field": "label", "type": "nominal"}}},
            {"data": {"values": [{"label": "07MI07"}]}, "mark": {"type": "rule", "strokeWidth": 1.5, "color": "#000"},
             "encoding": {
               "x": {"datum": 1052524800000, "type": "temporal", "scale": {"domain": [{"year": 2002, "month": 12, "date": 1}, {"year": 2013, "month": 12, "date": 1}], "nice": false}, "axis": null},
               "x2": {"datum": 1095120000000},
               "y": {"datum": 1111, "type": "quantitative", "scale": {"domain": [0, 1400], "nice": false}, "axis": {"values": [0, 500, 1000], "format": "d", "title": null, "tickSize": -5, "labelPadding": 20}}}}
          ]
        },
        {
          "width": 707, "height": 185,
          "layer": [
            {"data": {"name": "p2"}, "mark": {"type": "line", "strokeWidth": 8},
             "encoding": {
               "x": {"field": "d", "type": "temporal", "scale": {"domain": [{"year": 2002, "month": 12, "date": 1}, {"year": 2013, "month": 12, "date": 1}], "nice": false}, "axis": null},
               "y": {"field": "v", "type": "quantitative", "scale": {"domain": [0, 3000], "nice": false}, "axis": {"values": [0, 1000, 2000, 3000], "format": "d", "title": null, "tickSize": -5, "labelPadding": 20}},
               "color": {"field": "s", "type": "nominal", "scale": {"domain": ["区間1","区間2","区間3","区間4","区間5","区間6"], "range": ["#8f8f8f","#ff0000","#00b0f0","#7030a0","#00b050","#c00000"]}, "legend": null}}},
            {"data": {"name": "p2"}, "mark": {"type": "point", "filled": false, "strokeWidth": 2, "opacity": 1},
             "encoding": {
               "x": {"field": "d", "type": "temporal", "scale": {"domain": [{"year": 2002, "month": 12, "date": 1}, {"year": 2013, "month": 12, "date": 1}], "nice": false}, "axis": null},
               "y": {"field": "v", "type": "quantitative", "scale": {"domain": [0, 3000], "nice": false}, "axis": {"values": [0, 1000, 2000, 3000], "format": "d", "title": null, "tickSize": -5, "labelPadding": 20}},
               "color": {"field": "s", "type": "nominal", "scale": {"domain": ["区間1","区間2","区間3","区間4","区間5","区間6"], "range": ["#8f8f8f","#ff0000","#00b0f0","#7030a0","#00b050","#c00000"]}, "legend": null},
               "shape": {"field": "s", "type": "nominal", "scale": {"domain": ["区間1","区間2","区間3","区間4","区間5","区間6"], "range": ["circle","circle","triangle-up","circle","triangle-up","square"]}, "legend": null},
               "size": {"field": "s", "type": "ordinal", "scale": {"domain": ["区間1","区間2","区間3","区間4","区間5","区間6"], "range": [90,100,50,40,60,80]}, "legend": null}}},
            {"data": {"values": [{"label": "09MI20"}]}, "mark": {"type": "text", "align": "left", "baseline": "middle", "font": "DejaVu Sans", "fontWeight": "bold", "fontSize": 21, "color": "#000"},
             "encoding": {
               "x": {"datum": 1052524800000, "type": "temporal", "scale": {"domain": [{"year": 2002, "month": 12, "date": 1}, {"year": 2013, "month": 12, "date": 1}], "nice": false}, "axis": null},
               "y": {"datum": 2595, "type": "quantitative", "scale": {"domain": [0, 3000], "nice": false}, "axis": {"values": [0, 1000, 2000, 3000], "format": "d", "title": null, "tickSize": -5, "labelPadding": 20}},
               "text": {"field": "label", "type": "nominal"}}},
            {"data": {"values": [{"label": "09MI20"}]}, "mark": {"type": "rule", "strokeWidth": 1.5, "color": "#000"},
             "encoding": {
               "x": {"datum": 1052524800000, "type": "temporal", "scale": {"domain": [{"year": 2002, "month": 12, "date": 1}, {"year": 2013, "month": 12, "date": 1}], "nice": false}, "axis": null},
               "x2": {"datum": 1095120000000},
               "y": {"datum": 2400, "type": "quantitative", "scale": {"domain": [0, 3000], "nice": false}, "axis": {"values": [0, 1000, 2000, 3000], "format": "d", "title": null, "tickSize": -5, "labelPadding": 20}}}},
            {"data": {"values": [{"label": "区間1-5"}]}, "mark": {"type": "text", "align": "center", "baseline": "middle", "font": "DejaVu Sans, Noto Sans CJK JP", "fontWeight": "bold", "fontSize": 21, "color": "#000"},
             "encoding": {
               "x": {"datum": 1261094400000, "type": "temporal", "scale": {"domain": [{"year": 2002, "month": 12, "date": 1}, {"year": 2013, "month": 12, "date": 1}], "nice": false}, "axis": null},
               "y": {"datum": 2416, "type": "quantitative", "scale": {"domain": [0, 3000], "nice": false}, "axis": {"values": [0, 1000, 2000, 3000], "format": "d", "title": null, "tickSize": -5, "labelPadding": 20}},
               "text": {"field": "label", "type": "nominal"}}},
            {"data": {"values": [{"label": "区間6"}]}, "mark": {"type": "text", "align": "center", "baseline": "middle", "font": "DejaVu Sans, Noto Sans CJK JP", "fontWeight": "bold", "fontSize": 21, "color": "#000"},
             "encoding": {
               "x": {"datum": 1261094400000, "type": "temporal", "scale": {"domain": [{"year": 2002, "month": 12, "date": 1}, {"year": 2013, "month": 12, "date": 1}], "nice": false}, "axis": null},
               "y": {"datum": 876, "type": "quantitative", "scale": {"domain": [0, 3000], "nice": false}, "axis": {"values": [0, 1000, 2000, 3000], "format": "d", "title": null, "tickSize": -5, "labelPadding": 20}},
               "text": {"field": "label", "type": "nominal"}}}
          ]
        },
        {
          "width": 707, "height": 186,
          "layer": [
            {"data": {"name": "p3"}, "mark": {"type": "point", "filled": false, "strokeWidth": 2, "opacity": 1},
             "encoding": {
               "x": {"field": "d", "type": "temporal", "scale": {"domain": [{"year": 2002, "month": 12, "date": 1}, {"year": 2013, "month": 12, "date": 1}], "nice": false}, "axis": null},
               "y": {"field": "v", "type": "quantitative", "scale": {"domain": [0, 2500], "nice": false}, "axis": {"values": [0, 500, 1000, 1500, 2000, 2500], "format": "d", "title": null, "tickSize": -5, "labelPadding": 20}},
               "color": {"field": "s", "type": "nominal", "scale": {"domain": ["区間1","区間2","区間3","区間4"], "range": ["#8f8f8f","#ff0000","#00b0f0","#7030a0"]}, "legend": null},
               "shape": {"field": "s", "type": "nominal", "scale": {"domain": ["区間1","区間2","区間3","区間4"], "range": ["circle","circle","triangle-up","circle"]}, "legend": null},
               "size": {"field": "s", "type": "ordinal", "scale": {"domain": ["区間1","区間2","区間3","区間4"], "range": [60,65,50,55]}, "legend": null}}},
            {"data": {"values": [{"label": "09MI21"}]}, "mark": {"type": "text", "align": "left", "baseline": "middle", "font": "DejaVu Sans", "fontWeight": "bold", "fontSize": 21, "color": "#000"},
             "encoding": {
               "x": {"datum": 1052524800000, "type": "temporal", "scale": {"domain": [{"year": 2002, "month": 12, "date": 1}, {"year": 2013, "month": 12, "date": 1}], "nice": false}, "axis": null},
               "y": {"datum": 2110, "type": "quantitative", "scale": {"domain": [0, 2500], "nice": false}, "axis": {"values": [0, 500, 1000, 1500, 2000, 2500], "format": "d", "title": null, "tickSize": -5, "labelPadding": 20}},
               "text": {"field": "label", "type": "nominal"}}},
            {"data": {"values": [{"label": "09MI21"}]}, "mark": {"type": "rule", "strokeWidth": 1.5, "color": "#000"},
             "encoding": {
               "x": {"datum": 1052524800000, "type": "temporal", "scale": {"domain": [{"year": 2002, "month": 12, "date": 1}, {"year": 2013, "month": 12, "date": 1}], "nice": false}, "axis": null},
               "x2": {"datum": 1095120000000},
               "y": {"datum": 1949, "type": "quantitative", "scale": {"domain": [0, 2500], "nice": false}, "axis": {"values": [0, 500, 1000, 1500, 2000, 2500], "format": "d", "title": null, "tickSize": -5, "labelPadding": 20}}}},
            {"data": {"values": [{"label": "区間1-4"}]}, "mark": {"type": "text", "align": "center", "baseline": "middle", "font": "DejaVu Sans, Noto Sans CJK JP", "fontWeight": "bold", "fontSize": 21, "color": "#000"},
             "encoding": {
               "x": {"datum": 1274745600000, "type": "temporal", "scale": {"domain": [{"year": 2002, "month": 12, "date": 1}, {"year": 2013, "month": 12, "date": 1}], "nice": false}, "axis": null},
               "y": {"datum": 1640, "type": "quantitative", "scale": {"domain": [0, 2500], "nice": false}, "axis": {"values": [0, 500, 1000, 1500, 2000, 2500], "format": "d", "title": null, "tickSize": -5, "labelPadding": 20}},
               "text": {"field": "label", "type": "nominal"}}}
          ]
        },
        {
          "width": 707, "height": 182,
          "layer": [
            {"data": {"name": "p4"}, "mark": {"type": "line", "strokeWidth": 8},
             "encoding": {
               "x": {"field": "d", "type": "temporal", "scale": {"domain": [{"year": 2002, "month": 12, "date": 1}, {"year": 2013, "month": 12, "date": 1}], "nice": false},
                     "axis": {"values": [{"year": 2002, "month": 12, "date": 1}, {"year": 2003, "month": 12, "date": 1}, {"year": 2004, "month": 12, "date": 1}, {"year": 2005, "month": 12, "date": 1}, {"year": 2006, "month": 12, "date": 1}, {"year": 2007, "month": 12, "date": 1}, {"year": 2008, "month": 12, "date": 1}, {"year": 2009, "month": 12, "date": 1}, {"year": 2010, "month": 12, "date": 1}, {"year": 2011, "month": 12, "date": 1}, {"year": 2012, "month": 12, "date": 1}, {"year": 2013, "month": 12, "date": 1}],
                              "format": "%Y/%m", "labelAngle": -33, "labelAlign": "right", "labelBaseline": "middle", "labelFontSize": 19, "tickSize": -5, "labelPadding": 20, "labelOffset": 4,
                              "title": "観測日", "titleFont": "DejaVu Sans, Noto Sans CJK JP", "titleFontSize": 20, "titleFontWeight": "bold", "titleColor": "#000", "titlePadding": 38}},
               "y": {"field": "v", "type": "quantitative", "scale": {"domain": [0, 3000], "nice": false}, "axis": {"values": [0, 1000, 2000, 3000], "format": "d", "title": null, "tickSize": -5, "labelPadding": 20}},
               "color": {"field": "s", "type": "nominal", "scale": {"domain": ["区間1","区間2","区間3","区間4","区間5","区間6"], "range": ["#8f8f8f","#ff0000","#00b0f0","#7030a0","#00b050","#c00000"]}, "legend": null}}},
            {"data": {"name": "p4"}, "mark": {"type": "point", "filled": false, "strokeWidth": 2, "opacity": 1},
             "encoding": {
               "x": {"field": "d", "type": "temporal"},
               "y": {"field": "v", "type": "quantitative"},
               "color": {"field": "s", "type": "nominal", "scale": {"domain": ["区間1","区間2","区間3","区間4","区間5","区間6"], "range": ["#8f8f8f","#ff0000","#00b0f0","#7030a0","#00b050","#c00000"]}, "legend": null},
               "shape": {"field": "s", "type": "nominal", "scale": {"domain": ["区間1","区間2","区間3","区間4","区間5","区間6"], "range": ["circle","circle","triangle-up","circle","triangle-up","square"]}, "legend": null},
               "size": {"field": "s", "type": "ordinal", "scale": {"domain": ["区間1","区間2","区間3","区間4","区間5","区間6"], "range": [90,100,50,40,60,80]}, "legend": null}}},
            {"data": {"values": [{"label": "10MI26"}]}, "mark": {"type": "text", "align": "left", "baseline": "middle", "font": "DejaVu Sans", "fontWeight": "bold", "fontSize": 21, "color": "#000"},
             "encoding": {"x": {"datum": 1052524800000, "type": "temporal"}, "y": {"datum": 2604, "type": "quantitative"}, "text": {"field": "label", "type": "nominal"}}},
            {"data": {"values": [{"label": "10MI26"}]}, "mark": {"type": "rule", "strokeWidth": 1.5, "color": "#000"},
             "encoding": {"x": {"datum": 1052524800000, "type": "temporal"}, "x2": {"datum": 1095120000000}, "y": {"datum": 2407, "type": "quantitative"}}},
            {"data": {"values": [{"label": "区間1-5"}]}, "mark": {"type": "text", "align": "center", "baseline": "middle", "font": "DejaVu Sans, Noto Sans CJK JP", "fontWeight": "bold", "fontSize": 21, "color": "#000"},
             "encoding": {"x": {"datum": 1282262400000, "type": "temporal"}, "y": {"datum": 2407, "type": "quantitative"}, "text": {"field": "label", "type": "nominal"}}},
            {"data": {"values": [{"label": "区間6"}]}, "mark": {"type": "text", "align": "center", "baseline": "middle", "font": "DejaVu Sans, Noto Sans CJK JP", "fontWeight": "bold", "fontSize": 21, "color": "#000"},
             "encoding": {"x": {"datum": 1278288000000, "type": "temporal"}, "y": {"datum": 610, "type": "quantitative"}, "text": {"field": "label", "type": "nominal"}}}
          ]
        }
      ]
    },
    {
      "width": 115, "height": 216,
      "view": {"stroke": null},
      "data": {"name": "keys"},
      "encoding": {
        "y": {"field": "s", "type": "nominal", "scale": {"type": "point", "padding": 0.83, "domain": ["区間1","区間2","区間3","区間4","区間5","区間6"]}, "axis": null}
      },
      "layer": [
        {"mark": {"type": "rule", "strokeWidth": 2},
         "encoding": {"x": {"datum": 0.01, "type": "quantitative", "scale": {"domain": [0, 1]}, "axis": null}, "x2": {"datum": 0.38},
                      "color": {"field": "s", "type": "nominal", "scale": {"domain": ["区間1","区間2","区間3","区間4","区間5","区間6"], "range": ["#8f8f8f","#ff0000","#00b0f0","#7030a0","#00b050","#c00000"]}, "legend": null}}},
        {"mark": {"type": "point", "filled": true, "fill": "white", "strokeWidth": 1.6, "opacity": 1},
         "encoding": {"x": {"datum": 0.2, "type": "quantitative", "axis": null},
                      "stroke": {"field": "s", "type": "nominal", "scale": {"domain": ["区間1","区間2","区間3","区間4","区間5","区間6"], "range": ["#8f8f8f","#ff0000","#00b0f0","#7030a0","#00b050","#c00000"]}, "legend": null},
                      "shape": {"field": "s", "type": "nominal", "scale": {"domain": ["区間1","区間2","区間3","区間4","区間5","区間6"], "range": ["circle","circle","triangle-up","circle","triangle-up","square"]}, "legend": null},
                      "size": {"field": "s", "type": "ordinal", "scale": {"domain": ["区間1","区間2","区間3","区間4","区間5","区間6"], "range": [80,100,40,30,50,70]}, "legend": null}}},
        {"mark": {"type": "text", "align": "left", "baseline": "middle", "font": "DejaVu Sans, Noto Sans CJK JP", "fontWeight": "bold", "fontSize": 20, "color": "#000"},
         "encoding": {"x": {"datum": 0.49, "type": "quantitative", "axis": null}, "text": {"field": "s"}}}
      ]
    }
  ],
  "spacing": 12
}
